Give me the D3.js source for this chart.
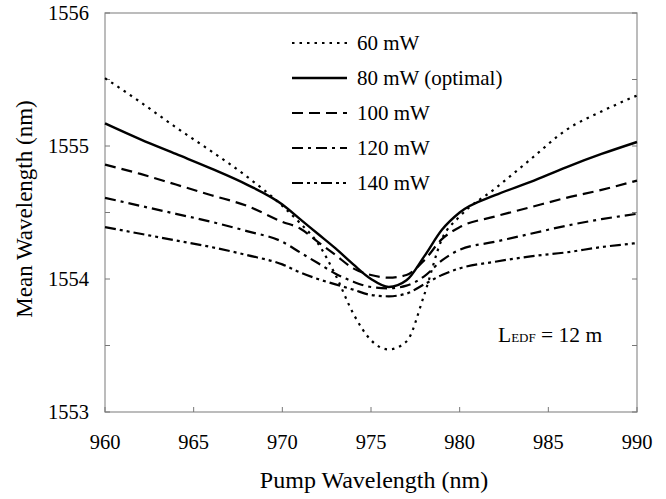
<!DOCTYPE html>
<html>
<head>
<meta charset="utf-8">
<script src="https://cdn.jsdelivr.net/npm/d3@7"></script>
<style>
  body { margin: 0; background: #fff; }
  text { font-family: "Liberation Serif", "Times New Roman", serif; fill: #000; }
</style>
</head>
<body>
<script>
// pump wavelength samples (nm)
var pump = [960, 962, 964, 966, 968, 970, 971, 972, 973, 974, 975, 976, 977, 978, 979, 980, 982, 984, 986, 988, 990];

// mean wavelength (nm) for each pump power
var p60  = [1555.51, 1555.33, 1555.14, 1554.96, 1554.77, 1554.55, 1554.42, 1554.27, 1554.03, 1553.74, 1553.54, 1553.47, 1553.53, 1553.88, 1554.30, 1554.47, 1554.68, 1554.90, 1555.12, 1555.26, 1555.38];
var p80  = [1555.17, 1555.05, 1554.94, 1554.83, 1554.71, 1554.56, 1554.45, 1554.34, 1554.23, 1554.11, 1554.00, 1553.94, 1553.99, 1554.17, 1554.37, 1554.50, 1554.63, 1554.73, 1554.84, 1554.94, 1555.03];
var p100 = [1554.86, 1554.79, 1554.71, 1554.63, 1554.55, 1554.43, 1554.38, 1554.28, 1554.18, 1554.08, 1554.03, 1554.01, 1554.03, 1554.14, 1554.30, 1554.39, 1554.47, 1554.54, 1554.61, 1554.67, 1554.74];
var p120 = [1554.61, 1554.55, 1554.49, 1554.43, 1554.36, 1554.28, 1554.20, 1554.12, 1554.04, 1553.98, 1553.94, 1553.93, 1553.95, 1554.02, 1554.14, 1554.22, 1554.28, 1554.34, 1554.40, 1554.45, 1554.49];
var p140 = [1554.39, 1554.34, 1554.29, 1554.24, 1554.18, 1554.11, 1554.05, 1554.00, 1553.96, 1553.92, 1553.88, 1553.87, 1553.89, 1553.96, 1554.03, 1554.08, 1554.13, 1554.17, 1554.20, 1554.24, 1554.27];

var labels = ["60 mW", "80 mW (optimal)", "100 mW", "120 mW", "140 mW"];
var xTicks = [960, 965, 970, 975, 980, 985, 990];
var yTicks = [1553, 1554, 1555, 1556];

var series = [p60, p80, p100, p120, p140];
var dashes = ["2.5,5", null, "11,6", "11,5,3,5", "11,4,3,4,3,4"];
var widths = [2.2, 2.4, 2.2, 2.2, 2.2];

var width = 666, height = 499;
var mLeft = 105, mRight = 637, mTop = 13, mBottom = 412;

var svg = d3.select("body").append("svg")
  .attr("width", width)
  .attr("height", height);

var x = d3.scaleLinear().domain([960, 990]).range([mLeft, mRight]);
var y = d3.scaleLinear().domain([1553, 1556]).range([mBottom, mTop]);

// frame
svg.append("rect")
  .attr("x", mLeft).attr("y", mTop)
  .attr("width", mRight - mLeft).attr("height", mBottom - mTop)
  .attr("fill", "none").attr("stroke", "#999").attr("stroke-width", 1.3);

// x ticks (inside, pointing up)
svg.selectAll(".xt").data(xTicks).enter().append("line")
  .attr("x1", function(d){ return x(d); }).attr("x2", function(d){ return x(d); })
  .attr("y1", mBottom).attr("y2", mBottom - 5)
  .attr("stroke", "#777").attr("stroke-width", 1);

// y ticks, major and half-step, on both sides
var yMinor = d3.range(1553, 1556.01, 0.5);
svg.selectAll(".yt").data(yMinor).enter().append("line")
  .attr("x1", mLeft).attr("x2", mLeft + 5)
  .attr("y1", function(d){ return y(d); }).attr("y2", function(d){ return y(d); })
  .attr("stroke", "#777").attr("stroke-width", 1);
svg.selectAll(".yt2").data(yMinor).enter().append("line")
  .attr("x1", mRight).attr("x2", mRight - 5)
  .attr("y1", function(d){ return y(d); }).attr("y2", function(d){ return y(d); })
  .attr("stroke", "#777").attr("stroke-width", 1);

// tick labels
svg.selectAll(".xl").data(xTicks).enter().append("text")
  .attr("x", function(d){ return x(d); })
  .attr("y", 449)
  .attr("text-anchor", "middle")
  .style("font-size", "20.5px")
  .text(function(d){ return d; });

svg.selectAll(".yl").data(yTicks).enter().append("text")
  .attr("x", 89)
  .attr("y", function(d){ return y(d); })
  .attr("dy", "0.36em")
  .attr("text-anchor", "end")
  .style("font-size", "20.5px")
  .text(function(d){ return d; });

// axis titles
svg.append("text")
  .attr("x", 374).attr("y", 488)
  .attr("text-anchor", "middle")
  .style("font-size", "24px")
  .text("Pump Wavelength (nm)");

svg.append("text")
  .attr("transform", "translate(32,209) rotate(-90)")
  .attr("text-anchor", "middle")
  .style("font-size", "23px")
  .text("Mean Wavelength (nm)");

// curves
var line = d3.line()
  .x(function(d, i){ return x(pump[i]); })
  .y(function(d){ return y(d); })
  .curve(d3.curveMonotoneX);

svg.selectAll(".curve").data(series).enter().append("path")
  .attr("d", line)
  .attr("fill", "none")
  .attr("stroke", "#000")
  .attr("stroke-width", function(d, i){ return widths[i]; })
  .attr("stroke-dasharray", function(d, i){ return dashes[i]; });

// legend
var legY = [43, 78, 113, 148, 183];
var leg = svg.selectAll(".leg").data(labels).enter().append("g")
  .attr("transform", function(d, i){ return "translate(0," + legY[i] + ")"; });
leg.append("line")
  .attr("x1", 292).attr("x2", 347)
  .attr("y1", 0).attr("y2", 0)
  .attr("stroke", "#000")
  .attr("stroke-width", function(d, i){ return widths[i]; })
  .attr("stroke-dasharray", function(d, i){ return dashes[i]; });
leg.append("text")
  .attr("x", 357).attr("y", 0).attr("dy", "0.35em")
  .style("font-size", "21px")
  .text(function(d){ return d; });

// fibre length note
var note = svg.append("text")
  .attr("x", 498).attr("y", 342)
  .style("font-size", "21.5px");
note.append("tspan").text("L");
note.append("tspan").style("font-size", "13px").text("EDF");
note.append("tspan").text(" = 12 m");
</script>
</body>
</html>
